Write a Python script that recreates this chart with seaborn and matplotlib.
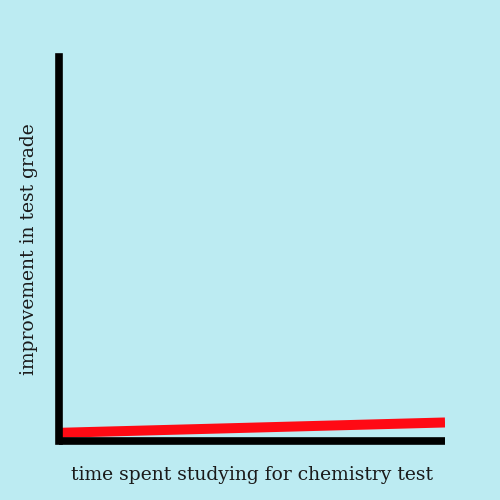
import pandas as pd
import matplotlib.pyplot as plt
import seaborn as sns

# study time vs. grade improvement (almost flat)
study_time = [0, 10]
improvement = [0.2, 0.47]
x_label = 'time spent studying for chemistry test'
y_label = 'improvement in test grade'

df = pd.DataFrame({'time': study_time, 'improvement': improvement})

bg = '#bcebf2'
sns.set_style('white')
plt.rcParams['font.family'] = ['DejaVu Serif']

fig = plt.figure(figsize=(5, 5), dpi=100, facecolor=bg)
ax = fig.add_axes([0.117, 0.119, 0.773, 0.767])
ax.set_facecolor(bg)

sns.lineplot(x='time', y='improvement', data=df, ax=ax, color='#ff0a14',
             linewidth=7.2, solid_capstyle='butt')

ax.set_xlim(0, 10)
ax.set_ylim(0, 10)
ax.set_xticks([])
ax.set_yticks([])
for side in ['top', 'right']:
    ax.spines[side].set_visible(False)
for side in ['left', 'bottom']:
    ax.spines[side].set_color('black')
    ax.spines[side].set_linewidth(5.5)
ax.spines['bottom'].set_capstyle('butt')

ax.set_xlabel(x_label, fontsize=13.5, color='#1a1a1a', labelpad=18)
ax.set_ylabel(y_label, fontsize=13.5, color='#1a1a1a', labelpad=15)

fig.savefig('out.png', dpi=100, facecolor=bg)
